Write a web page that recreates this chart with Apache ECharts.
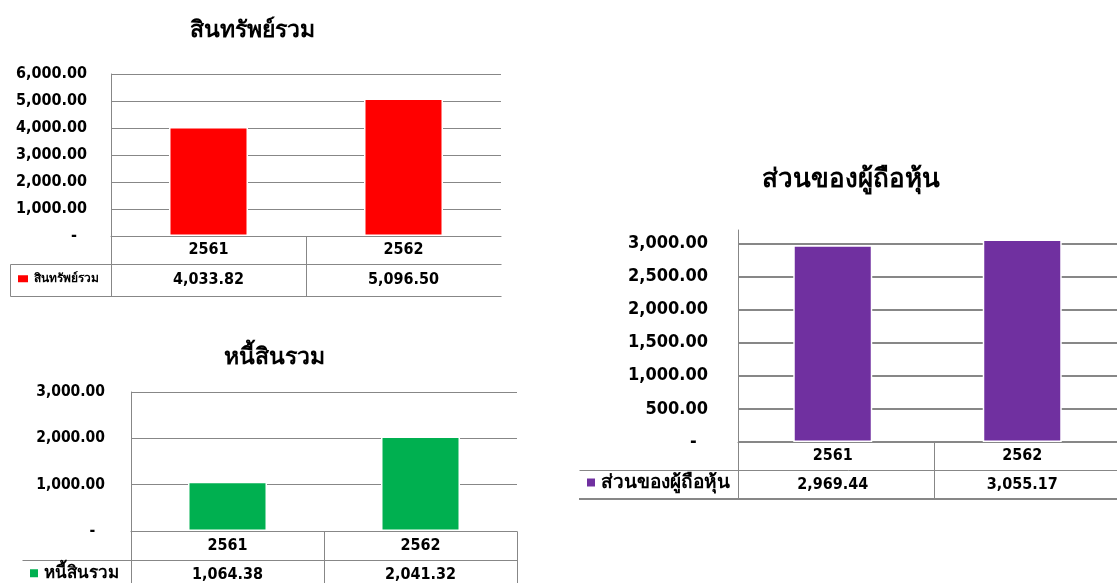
<!DOCTYPE html>
<html>
<head>
<meta charset="utf-8">
<script src="https://cdn.jsdelivr.net/npm/echarts@6/dist/echarts.min.js"></script>
<style>
html, body { margin: 0; padding: 0; background: #fff; }
#main { width: 1117px; height: 583px; }
</style>
</head>
<body>
<div id="main"></div>
<script>
// ข้อมูลงบการเงิน (ล้านบาท)
var years = ['2561', '2562'];
var assets = [4033.82, 5096.50];
var liabilities = [1064.38, 2041.32];
var equity = [2969.44, 3055.17];
var names = ['สินทรัพย์รวม', 'หนี้สินรวม', 'ส่วนของผู้ถือหุ้น'];
var yMax = [6000, 3000, 3200];
var yStep = [1000, 1000, 500];

var values = [assets, liabilities, equity];
var colors = ['#ff0000', '#00b050', '#7030a0'];
var FONT = "'DejaVu Sans Condensed', 'DejaVu Sans', sans-serif";
var LINE = '#878787';

// ตำแหน่งของแต่ละกราฟ
var panels = [
	{left: 111, top: 74, width: 390, bottom: 236, row1: 28, row2: 32, tableLeft: 10, leftBorder: true, rightBorder: false,
	 axisFont: 16, cellFont: 16, legendFont: 12, key: [12, 9], labelGap: 24, titleX: 247, titleY: 15, titleFont: 23,
	 gridWidth: 1, bottomWidth: 1},
	{left: 131, top: 392, width: 386, bottom: 531, row1: 29, row2: 30, tableLeft: 22, leftBorder: false, rightBorder: true,
	 axisFont: 15.5, cellFont: 16, legendFont: 17, key: [10, 10], labelGap: 26, titleX: 269, titleY: 342, titleFont: 23,
	 gridWidth: 1, bottomWidth: 1},
	{left: 738, top: 230, width: 392, bottom: 442, row1: 28, row2: 29, tableLeft: 579, leftBorder: false, rightBorder: true,
	 axisFont: 18, cellFont: 16, legendFont: 19, key: [10, 10], labelGap: 30, titleX: 846, titleY: 162, titleFont: 26,
	 gridWidth: 2, bottomWidth: 2}
];

function fmt(v) {
	return v.toLocaleString('en-US', {minimumFractionDigits: 2, maximumFractionDigits: 2});
}

function px(v) {
	return Math.round(v) + 0.5;
}

var option = {
	animation: false,
	backgroundColor: '#fff',
	title: [], legend: [], grid: [], xAxis: [], yAxis: [], series: [], graphic: []
};

panels.forEach(function(p, i) {
	var step = yStep[i];
	var tableBottom = p.bottom + p.row1 + p.row2;
	var right = p.left + p.width;
	var catW = p.width / years.length;

	option.title.push({
		text: names[i], left: p.titleX, top: p.titleY, textAlign: 'center',
		textStyle: {fontSize: p.titleFont, fontWeight: 'bold', color: '#000', fontFamily: FONT}
	});

	option.legend.push({
		data: [names[i]], left: p.tableLeft + 6, top: p.bottom + p.row1 + p.row2 / 2 - p.legendFont * 0.6,
		padding: 0, icon: 'rect', itemWidth: p.key[0], itemHeight: p.key[1], selectedMode: false,
		textStyle: {fontSize: p.legendFont, fontWeight: 'bold', color: '#000', fontFamily: FONT}
	});

	option.grid.push({left: p.left, top: p.top, width: p.width, height: p.bottom - p.top});

	// แกนปี (แถวแรกของตาราง)
	option.xAxis.push({
		type: 'category', gridIndex: i, data: years, z: 3,
		axisLine: {lineStyle: {color: LINE, width: 1}},
		axisTick: {show: false},
		axisLabel: {margin: p.row1 / 2, verticalAlign: 'middle', fontSize: p.cellFont, fontWeight: 'bold',
			color: '#000', fontFamily: FONT}
	});
	// ค่าตัวเลข (แถวที่สองของตาราง)
	option.xAxis.push({
		type: 'category', gridIndex: i, data: years, position: 'bottom', offset: p.row1,
		axisLine: {show: false}, axisTick: {show: false},
		axisLabel: {margin: p.row2 / 2, verticalAlign: 'middle', fontSize: p.cellFont, fontWeight: 'bold',
			color: '#000', fontFamily: FONT,
			formatter: function(v, idx) { return fmt(values[i][idx]); }}
	});

	option.yAxis.push({
		type: 'value', gridIndex: i, min: 0, max: yMax[i], interval: step,
		axisLine: {show: true, lineStyle: {color: LINE, width: 1}},
		axisTick: {show: false},
		splitLine: {show: true, showMaxLine: yMax[i] % step === 0, lineStyle: {color: LINE, width: p.gridWidth}},
		axisLabel: {margin: p.labelGap, fontSize: p.axisFont, fontWeight: 'bold', color: '#000', fontFamily: FONT,
			formatter: function(v) {
				if (v === 0) return '-  ';
				if (v % step) return '';
				return fmt(v);
			}}
	});

	option.series.push({
		type: 'bar', name: names[i], xAxisIndex: i * 2, yAxisIndex: i, data: values[i],
		barWidth: 79, itemStyle: {color: colors[i], borderColor: '#fff', borderWidth: 1.5}
	});

	// เส้นตาราง
	var lines = [
		[p.left, p.bottom, p.left, tableBottom, 1],
		[p.tableLeft, p.bottom + p.row1, right, p.bottom + p.row1, 1],
		[p.tableLeft, tableBottom, right, tableBottom, p.bottomWidth]
	];
	if (p.leftBorder) lines.push([p.tableLeft, p.bottom + p.row1, p.tableLeft, tableBottom, 1]);
	var last = p.rightBorder ? years.length : years.length - 1;
	for (var k = 1; k <= last; k++) {
		lines.push([p.left + k * catW, p.bottom, p.left + k * catW, tableBottom, 1]);
	}
	lines.forEach(function(l) {
		var off = l[4] % 2 ? px : Math.round;
		option.graphic.push({
			type: 'line', silent: true,
			shape: {x1: off(l[0]), y1: off(l[1]), x2: off(l[2]), y2: off(l[3])},
			style: {stroke: LINE, lineWidth: l[4]}
		});
	});
});

var myChart = echarts.init(document.getElementById('main'));
myChart.setOption(option);
</script>
</body>
</html>
